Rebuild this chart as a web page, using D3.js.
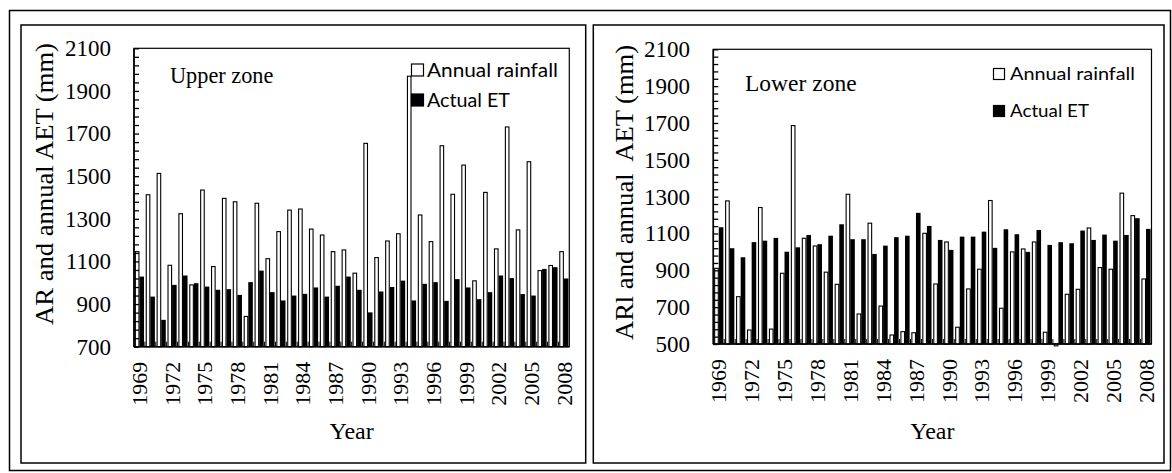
<!DOCTYPE html>
<html><head><meta charset="utf-8">
<script src="https://cdn.jsdelivr.net/npm/d3@7"></script>
<style>body{margin:0;background:#fff} svg{display:block} text{white-space:pre}</style>
</head><body><svg id="c" width="1172" height="473"></svg>
<script>
const years = [1969,1970,1971,1972,1973,1974,1975,1976,1977,1978,1979,1980,1981,1982,1983,1984,1985,1986,1987,1988,
               1989,1990,1991,1992,1993,1994,1995,1996,1997,1998,1999,2000,2001,2002,2003,2004,2005,2006,2007,2008];
const upperRain = [1146,1413,1513,1082,1324,990,1435,1076,1396,1380,842,1373,1113,1240,1341,1346,1252,1224,1146,1154,
                   1045,1654,1118,1196,1230,1969,1318,1193,1643,1415,1552,1009,1424,1159,1731,1248,1568,1057,1081,1146];
const upperAET = [1029,935,826,990,1034,998,982,967,970,943,1003,1057,956,917,940,948,978,935,986,1029,
                  967,861,959,980,1010,917,995,1003,915,1017,978,923,956,1034,1022,947,940,1065,1073,1020];
const lowerRain = [911,1277,757,576,1241,581,884,1686,1074,1032,890,824,1313,663,1156,706,549,567,561,1101,
                   826,1054,591,799,906,1279,694,1000,1016,1054,564,490,770,797,1130,915,906,1319,1197,853];
const lowerAET = [1134,1020,971,1053,1061,1076,1001,1025,1092,1042,1088,1150,1069,1069,989,1034,1080,1088,1212,1141,
                  1065,1011,1083,1083,1110,1022,1123,1096,1000,1119,1038,1053,1047,1116,1065,1094,1061,1092,1183,1125];
const upperYTicks = [700,900,1100,1300,1500,1700,1900,2100];
const lowerYTicks = [500,700,900,1100,1300,1500,1700,1900,2100];
const xTickLabels = [1969,1972,1975,1978,1981,1984,1987,1990,1993,1996,1999,2002,2005,2008];
const seriesNames = ["Annual rainfall","Actual ET"];

const svg = d3.select('#c');
svg.append('rect').attr('x',9.5).attr('y',10.5).attr('width',1161).attr('height',460)
  .attr('fill','none').attr('stroke','#000').attr('stroke-width',1.5);

function panel(c){
  const g = svg.append('g');
  g.append('rect').attr('x',c.box[0]).attr('y',c.box[1]).attr('width',c.box[2]).attr('height',c.box[3])
    .attr('fill','none').attr('stroke','#000').attr('stroke-width',1.5);
  const x = d3.scaleBand().domain(years).range([c.x0,c.x1]).paddingInner(0.16).paddingOuter(0.08);
  const y = d3.scaleLinear().domain(c.domain).range([c.y1,c.y0]);
  const bw = x.bandwidth()/2;
  const base = y(c.domain[0]);
  g.append('rect').attr('x',c.x0).attr('y',c.y0).attr('width',c.x1-c.x0).attr('height',c.y1-c.y0)
    .attr('fill','none').attr('stroke','#000').attr('stroke-width',1.2);
  g.selectAll('rect.rain').data(c.rain).join('rect').attr('class','rain')
    .attr('x',(d,i)=>x(years[i])+0.5).attr('width',bw-1)
    .attr('y',d=>Math.min(y(d),base)).attr('height',d=>Math.abs(base-y(d)))
    .attr('fill','#fff').attr('stroke','#000').attr('stroke-width',1.1);
  g.selectAll('rect.aet').data(c.aet).join('rect').attr('class','aet')
    .attr('x',(d,i)=>x(years[i])+bw).attr('width',bw)
    .attr('y',d=>y(d)).attr('height',d=>base-y(d)).attr('fill','#000');
  const minor = d3.range(c.domain[0], c.domain[1]+1, 40);
  const ya = d3.axisRight(y).tickValues(minor).tickSize(5).tickFormat('');
  g.append('g').attr('transform',`translate(${c.x0},0)`).call(ya)
    .call(s=>s.select('.domain').remove()).selectAll('line').attr('stroke-width',1.3);
  const yl = d3.axisLeft(y).tickValues(c.yticks).tickSize(0).tickPadding(0).tickFormat(d3.format('d'));
  const ylg = g.append('g').attr('transform',`translate(${c.yLabelX},0)`).call(yl);
  ylg.select('.domain').remove();
  ylg.attr('font-family','"Liberation Serif", serif').attr('font-size',23);
  ylg.selectAll('text').attr('fill','#000').attr('x',0);
  const step = x.step();
  const bounds = years.map((d,i)=>x(d)-x.paddingInner()*step/2);
  g.selectAll('line.xt').data(bounds.slice(1)).join('line').attr('class','xt')
    .attr('x1',d=>d).attr('x2',d=>d).attr('y1',c.y1).attr('y2',c.y1-5).attr('stroke','#000').attr('stroke-width',1);
  g.append('line').attr('x1',c.x0).attr('x2',c.x0).attr('y1',c.y0).attr('y2',c.y1).attr('stroke','#000').attr('stroke-width',1.6);
  g.append('line').attr('x1',c.x0).attr('x2',c.x1).attr('y1',c.y1).attr('y2',c.y1).attr('stroke','#000').attr('stroke-width',1.6);
  g.selectAll('text.xl').data(xTickLabels).join('text').attr('class','xl')
    .attr('transform',d=>`translate(${x(d)+x.bandwidth()/2},${c.y1+15}) rotate(-90)`)
    .attr('text-anchor','end').attr('dy','0.35em')
    .attr('font-family','"Liberation Serif", serif').attr('font-size',22).text(d=>d);
  g.append('text').attr('x',(c.x0+c.x1)/2).attr('y',439).attr('text-anchor','middle')
    .attr('font-family','"Liberation Serif", serif').attr('font-size',24).text('Year');
  g.append('text').attr('transform',`translate(${c.title.x},${c.title.y}) rotate(-90)`)
    .attr('text-anchor','middle').attr('font-family','"Liberation Serif", serif').attr('font-size',25)
    .attr('textLength',c.title.len).attr('lengthAdjust','spacingAndGlyphs').text(c.title.text);
  g.append('text').attr('x',c.zone.x).attr('y',c.zone.y).attr('font-family','"Liberation Serif", serif')
    .attr('font-size',c.zone.fs).text(c.zone.text);
  const L = c.legend;
  [0,1].forEach(i=>{
    g.append('rect').attr('x',L.x+0.5).attr('y',L.by[i]+0.5).attr('width',L.box-1).attr('height',L.box-1)
      .attr('fill',i===0?'#fff':'#000').attr('stroke','#000').attr('stroke-width',1.2);
    g.append('text').attr('x',L.tx).attr('y',L.ty[i]).attr('font-family','Lato, "Open Sans", sans-serif')
      .attr('font-size',L.fs).attr('textLength',L.len[i]).attr('lengthAdjust','spacingAndGlyphs').text(seriesNames[i]);
  });
}

panel({box:[21,25,564.7,438], x0:134, x1:569.3, y0:48.3, y1:346.7, domain:[700,2100], yticks:upperYTicks,
  rain:upperRain, aet:upperAET, yLabelX:111,
  title:{x:53,y:184,len:282,text:'AR and annual AET (mm)'},
  zone:{x:170,y:83,fs:22.3,text:'Upper zone'},
  legend:{x:411,by:[63.5,93.5],box:13,tx:427,ty:[76.5,106.5],fs:19.5,len:[131,83]}});

panel({box:[593.3,25,570.7,438], x0:713.3, x1:1151.5, y0:49.3, y1:344, domain:[500,2100], yticks:lowerYTicks,
  rain:lowerRain, aet:lowerAET, yLabelX:690,
  title:{x:633,y:192.5,len:295,text:'ARl and annual  AET (mm)'},
  zone:{x:745,y:91,fs:23.5,text:'Lower zone'},
  legend:{x:993,by:[68,105],box:12,tx:1010,ty:[80,117],fs:18,len:[125,79]}});
</script></body></html>
